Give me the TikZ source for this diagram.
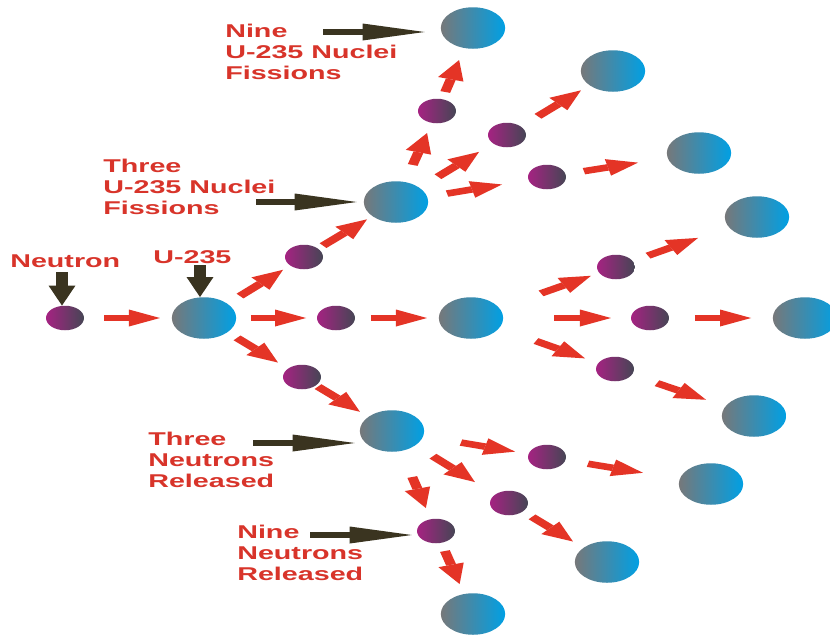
\documentclass[tikz,border=0pt]{standalone}
\usepackage{fontspec}
\setmainfont{Liberation Sans}
\usetikzlibrary{arrows.meta,calc}
\definecolor{nucL}{RGB}{118,120,122}
\definecolor{nucR}{RGB}{0,160,228}
\definecolor{neuL}{RGB}{165,34,130}
\definecolor{neuR}{RGB}{70,70,85}
\definecolor{arrred}{RGB}{228,52,38}
\definecolor{labred}{RGB}{216,52,42}
\definecolor{arrblk}{RGB}{58,52,32}
\tikzset{
  nucleus/.style={circle, minimum size=41.5pt, inner sep=0pt, left color=nucL, right color=nucR},
  neutron/.style={circle, minimum size=24.5pt, inner sep=0pt, left color=neuL, right color=neuR},
  redarr/.style={draw=arrred, line width=6.5pt, -{Triangle[length=20pt,width=17pt,line width=0pt]}},
  blkH/.style={draw=arrblk, line width=6.5pt, -{Triangle[length=40pt,width=17pt,line width=0pt]}},
  blkV/.style={draw=arrblk, line width=7.4pt, -{Triangle[length=20pt,width=17.4pt,line width=0pt]}},
  lab/.style={text=labred, font=\fontsize{18.5}{21}\selectfont\bfseries, inner sep=0pt, anchor=base west}
}
\newcommand\rarr[4]{\draw[redarr] ($(#1.center)!#3!(#2.center)$) -- ($(#1.center)!#4!(#2.center)$);}
\newcommand\mylines[1]{\begin{tabular}[t]{@{}l@{}}#1\end{tabular}}
\begin{document}
\begin{tikzpicture}[x=1pt,y=-1pt]
\fill[white] (0,0) rectangle (830,635);
\useasboundingbox (0,0) rectangle (830,635);
\begin{scope}[transform canvas={xscale=1.55}, x=0.645161pt]
% nodes
\node[neutron] (n0) at (65,318) {};
\node[nucleus] (u1) at (204,318) {};
\node[neutron] (nb) at (304,257) {};
\node[neutron] (nc) at (336,318) {};
\node[neutron] (nd) at (302,377) {};
\node[nucleus] (u2) at (396,202) {};
\node[nucleus] (u3) at (471,318) {};
\node[nucleus] (u4) at (392,431) {};
\node[neutron] (ne) at (437,111) {};
\node[neutron] (nf) at (507,135) {};
\node[neutron] (ng) at (547,177) {};
\node[nucleus] (u5) at (473,28) {};
\node[nucleus] (u6) at (613,71) {};
\node[nucleus] (u7) at (699,153) {};
\node[neutron] (nh) at (616,267) {};
\node[neutron] (ni) at (650,318) {};
\node[neutron] (nj) at (615,369) {};
\node[nucleus] (u8) at (757,217) {};
\node[nucleus] (u9) at (805,318) {};
\node[nucleus] (u10) at (754,416) {};
\node[neutron] (nk) at (547,457) {};
\node[neutron] (nl) at (509,503) {};
\node[neutron] (nm) at (436,531) {};
\node[nucleus] (u11) at (711,484) {};
\node[nucleus] (u12) at (607,562) {};
\node[nucleus] (u13) at (473,614) {};
% red arrows
\rarr{n0}{u1}{0.281}{0.683}
\rarr{u1}{nb}{0.36}{0.79}
\rarr{u1}{nc}{0.356}{0.773}
\rarr{u1}{nd}{0.337}{0.755}
\rarr{nb}{u2}{0.207}{0.685}
\rarr{nc}{u3}{0.259}{0.674}
\rarr{nd}{u4}{0.178}{0.644}
\rarr{u2}{ne}{0.407}{0.758}
\rarr{u2}{nf}{0.378}{0.748}
\rarr{u2}{ng}{0.338}{0.702}
\rarr{ne}{u5}{0.229}{0.614}
\rarr{nf}{u6}{0.292}{0.698}
\rarr{ng}{u7}{0.243}{0.599}
\rarr{u3}{nh}{0.483}{0.828}
\rarr{u3}{ni}{0.464}{0.782}
\rarr{u3}{nj}{0.451}{0.792}
\rarr{nh}{u8}{0.227}{0.582}
\rarr{ni}{u9}{0.29}{0.652}
\rarr{nj}{u10}{0.302}{0.655}
\rarr{u4}{nk}{0.445}{0.794}
\rarr{u4}{nl}{0.35}{0.709}
\rarr{u4}{nm}{0.46}{0.77}
\rarr{nk}{u11}{0.25}{0.585}
\rarr{nl}{u12}{0.235}{0.653}
\rarr{nm}{u13}{0.241}{0.639}
% labels
\node[lab] (t1) at (10,267) {Neutron};
\node[lab] (t2) at (153,263) {U-235};
\node[lab] (t3) at (225,37) {\mylines{Nine\\U-235 Nuclei\\Fissions}};
\node[lab] (t4) at (103,172) {\mylines{Three\\U-235 Nuclei\\Fissions}};
\node[lab] (t5) at (148,445) {\mylines{Three\\Neutrons\\Released}};
\node[lab] (t6) at (237,538) {\mylines{Nine\\Neutrons\\Released}};
% black arrows
\coordinate (s1) at (62,272);
\draw[blkV] (s1) -- (s1 |- n0.north);
\coordinate (s2) at (200,265);
\draw[blkV] (s2) -- (s2 |- u1.north);
\coordinate (s3) at (323,32);
\draw[blkH, shorten >=10.3pt] (s3) -- (s3 -| u5.west);
\coordinate (s4) at (256,202);
\draw[blkH, shorten >=4.4pt] (s4) -- (s4 -| u2.west);
\coordinate (s5) at (253,443);
\draw[blkH, shorten >=3.1pt] (s5) -- (s5 -| u4.west);
\coordinate (s6) at (310,535);
\draw[blkH, shorten >=3.2pt] (s6) -- (s6 -| nm.west);
\end{scope}
\end{tikzpicture}
\end{document}
